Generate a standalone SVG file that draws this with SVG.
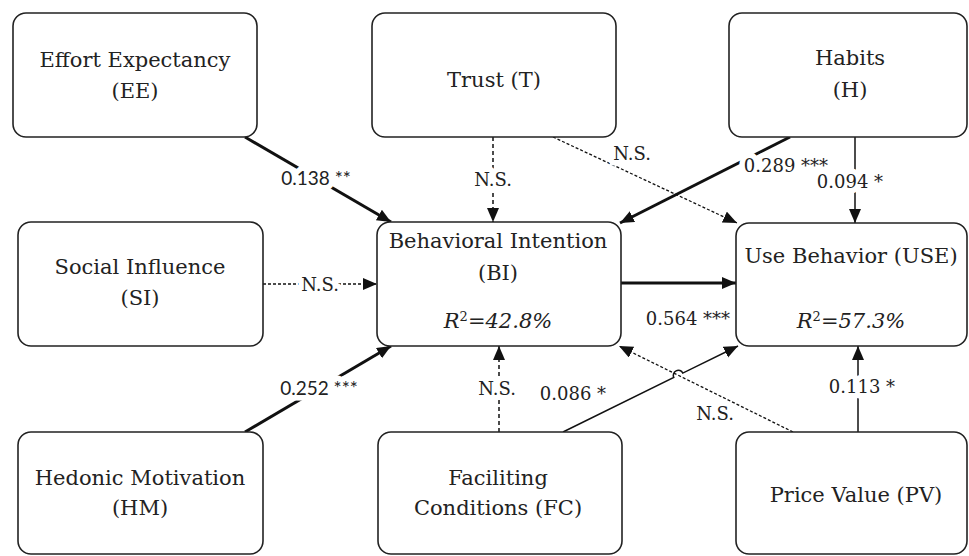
<svg xmlns="http://www.w3.org/2000/svg" width="969" height="556" viewBox="0 0 969 556">
<style>
.box{fill:#fff;stroke:#222;stroke-width:1.6}
.t{font-family:"DejaVu Serif","Liberation Serif",serif;font-size:21px;fill:#222;text-anchor:middle}
.r2{font-style:italic}
.lbl{font-family:"DejaVu Serif","Liberation Serif",serif;font-size:18px;fill:#222;text-anchor:middle;stroke:#fff;stroke-width:11;paint-order:stroke;stroke-linejoin:round}
.sans{font-family:Lato,"Liberation Sans",sans-serif;font-size:19px}
.thick{stroke:#111;stroke-width:3;fill:none}
.thin{stroke:#111;stroke-width:1.5;fill:none}
.dash{stroke:#111;stroke-width:1.5;stroke-dasharray:4 3;fill:none}
.dot{stroke:#111;stroke-width:1.3;stroke-dasharray:3 2;fill:none}
</style>
<defs>
<marker id="ah" markerUnits="userSpaceOnUse" markerWidth="16" markerHeight="14" refX="14" refY="6" orient="auto">
<path d="M0,0 L14,6 L0,12 z" fill="#111"/>
</marker>
</defs>
<g id="connectors">
<line class="thick" x1="245" y1="137" x2="391" y2="222" marker-end="url(#ah)"/>
<line class="dot" x1="263" y1="284" x2="377" y2="284" marker-end="url(#ah)"/>
<line class="thick" x1="245" y1="432" x2="391" y2="346" marker-end="url(#ah)"/>
<line class="dash" x1="493" y1="137" x2="493" y2="222" marker-end="url(#ah)"/>
<line class="dot" x1="553" y1="137" x2="737" y2="223" marker-end="url(#ah)"/>
<line class="thick" x1="790" y1="137" x2="620" y2="223" marker-end="url(#ah)"/>
<line class="thin" x1="855" y1="137" x2="855" y2="223" marker-end="url(#ah)"/>
<line class="thick" x1="621" y1="283" x2="736" y2="283" marker-end="url(#ah)"/>
<line class="dash" x1="499" y1="432" x2="499" y2="346" marker-end="url(#ah)"/>
<path class="thin" d="M563,432 L673.8,377.5 A5,5 0 0 1 682.8,373.1 L738,346" marker-end="url(#ah)"/>
<line class="dot" x1="793" y1="432" x2="619" y2="346" marker-end="url(#ah)"/>
<line class="thin" x1="858" y1="432" x2="858" y2="346" marker-end="url(#ah)"/>
<text class="lbl sans" x="316" y="185">0.138 **</text>
<text class="lbl" x="320" y="291">N.S.</text>
<text class="lbl sans" x="319" y="395">0.252 ***</text>
<text class="lbl" x="493" y="186">N.S.</text>
<text class="lbl" x="632" y="160">N.S.</text>
<text class="lbl" x="786" y="172">0.289 ***</text>
<text class="lbl" x="850" y="188">0.094 *</text>
<text class="lbl" x="688" y="325">0.564 ***</text>
<text class="lbl" x="497" y="395">N.S.</text>
<text class="lbl" x="573" y="400">0.086 *</text>
<text class="lbl" x="715" y="420">N.S.</text>
<text class="lbl" x="862" y="393">0.113 *</text>
</g>
<g id="EE"><rect class="box" x="13" y="13" width="244" height="124" rx="13"/><text class="t" x="135" y="67">Effort Expectancy</text><text class="t" x="135" y="98">(EE)</text></g>
<g id="T"><rect class="box" x="372" y="13" width="244" height="124" rx="13"/><text class="t" x="494" y="87">Trust (T)</text></g>
<g id="H"><rect class="box" x="729" y="13" width="238" height="124" rx="13"/><text class="t" x="850" y="65">Habits</text><text class="t" x="850" y="97">(H)</text></g>
<g id="SI"><rect class="box" x="18" y="222" width="245" height="124" rx="13"/><text class="t" x="140" y="274">Social Influence</text><text class="t" x="140" y="305">(SI)</text></g>
<g id="BI"><rect class="box" x="377" y="222" width="244" height="124" rx="13"/><text class="t" x="498" y="248">Behavioral Intention</text><text class="t" x="498" y="280">(BI)</text><text class="t" x="498" y="328"><tspan class="r2">R</tspan><tspan font-size="13" dy="-7">2</tspan><tspan class="r2" dy="7">=42.8%</tspan></text></g>
<g id="USE"><rect class="box" x="736" y="223" width="231" height="123" rx="13"/><text class="t" x="851" y="263">Use Behavior (USE)</text><text class="t" x="851" y="328"><tspan class="r2">R</tspan><tspan font-size="13" dy="-7">2</tspan><tspan class="r2" dy="7">=57.3%</tspan></text></g>
<g id="HM"><rect class="box" x="18" y="432" width="245" height="122" rx="13"/><text class="t" x="140" y="485">Hedonic Motivation</text><text class="t" x="140" y="515">(HM)</text></g>
<g id="FC"><rect class="box" x="378" y="432" width="244" height="122" rx="13"/><text class="t" x="498" y="485">Faciliting</text><text class="t" x="498" y="515">Conditions (FC)</text></g>
<g id="PV"><rect class="box" x="736" y="432" width="231" height="122" rx="13"/><text class="t" x="856" y="502">Price Value (PV)</text></g>
</svg>
